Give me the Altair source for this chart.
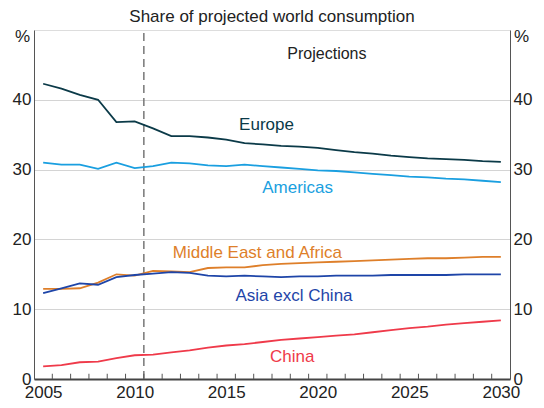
import altair as alt
import pandas as pd

years = list(range(2005, 2031))

europe = [42.3, 41.6, 40.7, 40.0, 36.8, 36.9, 35.9, 34.8, 34.8, 34.6, 34.3, 33.8, 33.6,
          33.4, 33.3, 33.1, 32.8, 32.5, 32.3, 32.0, 31.8, 31.6, 31.5, 31.4, 31.2, 31.1]
americas = [31.0, 30.7, 30.7, 30.1, 31.0, 30.2, 30.5, 31.0, 30.9, 30.6, 30.5, 30.7, 30.5,
            30.3, 30.1, 29.9, 29.8, 29.6, 29.4, 29.2, 29.0, 28.9, 28.7, 28.6, 28.4, 28.2]
mea = [12.9, 12.9, 13.0, 13.8, 15.0, 14.8, 15.5, 15.4, 15.3, 15.9, 16.0, 16.0, 16.3,
       16.5, 16.6, 16.7, 16.8, 16.9, 17.0, 17.1, 17.2, 17.3, 17.3, 17.4, 17.5, 17.5]
asia = [12.3, 13.0, 13.7, 13.5, 14.6, 14.9, 15.1, 15.3, 15.2, 14.8, 14.7, 14.8, 14.7,
        14.6, 14.7, 14.7, 14.8, 14.8, 14.8, 14.9, 14.9, 14.9, 14.9, 15.0, 15.0, 15.0]
china = [1.8, 2.0, 2.4, 2.5, 3.0, 3.4, 3.5, 3.8, 4.1, 4.5, 4.8, 5.0, 5.3,
         5.6, 5.8, 6.0, 6.2, 6.4, 6.7, 7.0, 7.3, 7.5, 7.8, 8.0, 8.2, 8.4]

series_names = ["Europe", "Americas", "Middle East and Africa", "Asia excl China", "China"]
series_values = [europe, americas, mea, asia, china]
series_colors = ["#0b3a48", "#1a9fe0", "#de7f2a", "#1e45a8", "#ef3a4a"]

label_x = [2017.2, 2018.9, 2016.7, 2018.7, 2018.6]
label_y = [36.4, 27.3, 18.0, 11.9, 3.1]

y_ticks = [0, 10, 20, 30, 40]
x_labels = [2005, 2010, 2015, 2020, 2025, 2030]
minor_ticks = [y + 0.5 for y in range(2005, 2030)]
projection_start = 2010.5

rows = []
for name, vals in zip(series_names, series_values):
    for yr, v in zip(years, vals):
        rows.append({"year": yr, "value": v, "series": name})
df = pd.DataFrame(rows)

labels_df = pd.DataFrame({"x": label_x, "y": label_y, "series": series_names})
ticks_df = pd.DataFrame({"x": minor_ticks, "y": [0] * len(minor_ticks), "y2": [0.75] * len(minor_ticks)})
proj_df = pd.DataFrame({"x": [projection_start], "y": [0], "y2": [50], "tx": [2020.5], "ty": [46.6], "t": ["Projections"]})

FONT = "Liberation Sans"
xscale = alt.Scale(domain=[2004.5, 2030.5], nice=False, zero=False)
yscale = alt.Scale(domain=[0, 50], nice=False)
cscale = alt.Scale(domain=series_names, range=series_colors)

x_axis = alt.Axis(values=x_labels, tickSize=0, labelPadding=18, labelBaseline="alphabetic",
                  labelFontSize=17, labelColor="#222", domainColor="#444", domainWidth=2,
                  grid=False, title=None, labelFont=FONT, format="d")

y_left = alt.Axis(values=y_ticks, tickSize=0, labelPadding=3, labelFontSize=17, labelColor="#222",
                  domainColor="#555", grid=True, gridColor="#d4d4d4", title="%", titleAngle=0,
                  titleAlign="center", titleBaseline="middle", titleX=-12, titleY=6,
                  titleFontSize=17, titleFontWeight="normal", titleColor="#222", labelFont=FONT,
                  titleFont=FONT)
y_right = alt.Axis(values=y_ticks, tickSize=0, labelPadding=3, labelFontSize=17, labelColor="#222",
                   domainColor="#555", grid=False, orient="right", title="%", titleAngle=0,
                   titleAlign="center", titleBaseline="middle", titleX=11, titleY=6,
                   titleFontSize=17, titleFontWeight="normal", titleColor="#222", labelFont=FONT,
                   titleFont=FONT)

base_lines = alt.Chart(df).mark_line(strokeWidth=1.8).encode(
    x=alt.X("year:Q", scale=xscale, axis=x_axis),
    y=alt.Y("value:Q", scale=yscale, axis=y_left),
    color=alt.Color("series:N", scale=cscale, legend=None),
)

dash = alt.Chart(proj_df).mark_rule(strokeDash=[8, 5], color="#777", strokeWidth=1.5).encode(
    x=alt.X("x:Q", scale=xscale), y=alt.Y("y:Q", scale=yscale, axis=y_left), y2="y2:Q"
)

proj_text = alt.Chart(proj_df).mark_text(fontSize=16, font=FONT, color="#222").encode(
    x=alt.X("tx:Q", scale=xscale), y=alt.Y("ty:Q", scale=yscale, axis=y_left), text="t:N"
)

minor = alt.Chart(ticks_df).mark_rule(color="#555", strokeWidth=1).encode(
    x=alt.X("x:Q", scale=xscale), y=alt.Y("y:Q", scale=yscale, axis=y_left), y2="y2:Q"
)

labels = alt.Chart(labels_df).mark_text(fontSize=17, font=FONT).encode(
    x=alt.X("x:Q", scale=xscale),
    y=alt.Y("y:Q", scale=yscale, axis=y_left),
    text="series:N",
    color=alt.Color("series:N", scale=cscale, legend=None),
)

left = alt.layer(dash, minor, base_lines, labels, proj_text)

right = alt.Chart(ticks_df).mark_rule(opacity=0).encode(
    x=alt.X("x:Q", scale=xscale),
    y=alt.Y("y:Q", scale=yscale, axis=y_right),
)

chart = alt.layer(left, right).resolve_scale(y="independent").properties(
    width=476, height=349,
    title=alt.TitleParams("Share of projected world consumption", fontSize=17, font=FONT,
                          fontWeight="normal", color="#222", anchor="middle", offset=1),
    autosize=alt.AutoSizeParams(type="none"),
    padding={"left": 26, "right": 26, "top": 22, "bottom": 21},
).configure_view(stroke="#555", strokeWidth=1).configure(background="white")

chart.save("out.html", embed_options={"renderer": "svg", "actions": False})
